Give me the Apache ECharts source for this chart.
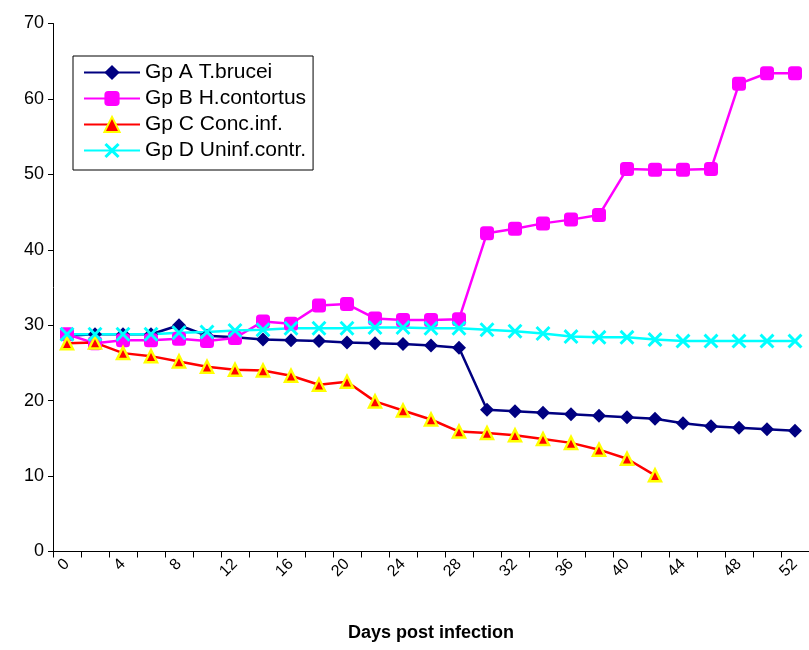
<!DOCTYPE html>
<html><head><meta charset="utf-8">
<script src="https://cdn.jsdelivr.net/npm/echarts@6/dist/echarts.min.js"></script>
<style>html,body{margin:0;padding:0;background:#fff}#c{width:809px;height:650px}</style>
</head><body><div id="c"></div>
<script>
const days = ["0","2","4","6","8","10","12","14","16","18","20","22","24","26","28","30","32","34","36","38","40","42","44","46","48","50","52"];
const gpA = [28.6,28.8,28.8,28.8,30.0,28.6,28.4,28.1,28.0,27.9,27.7,27.6,27.5,27.3,27.0,18.8,18.6,18.4,18.2,18.0,17.8,17.6,17.0,16.6,16.4,16.2,16.0];
const gpB = [28.8,27.6,28.0,28.0,28.2,27.9,28.3,30.5,30.2,32.6,32.8,30.9,30.7,30.7,30.8,42.2,42.8,43.5,44.0,44.6,50.7,50.6,50.6,50.7,62.0,63.4,63.4];
const gpC = [27.6,27.7,26.3,25.9,25.2,24.5,24.1,24.0,23.3,22.1,22.5,19.9,18.7,17.5,15.9,15.7,15.4,14.9,14.4,13.5,12.3,10.1,null,null,null,null,null];
const gpD = [28.8,28.8,28.8,28.8,29.0,29.1,29.3,29.4,29.6,29.6,29.6,29.7,29.7,29.6,29.6,29.4,29.2,28.9,28.5,28.4,28.4,28.1,27.9,27.9,27.9,27.9,27.9];
const names = ["Gp A T.brucei","Gp B H.contortus","Gp C Conc.inf.","Gp D Uninf.contr."];

const cross = 'path://M0,1.4L1.4,0L5,3.6L8.6,0L10,1.4L6.4,5L10,8.6L8.6,10L5,6.4L1.4,10L0,8.6L3.6,5Z';
const chart = echarts.init(document.getElementById('c'), null, {renderer:'canvas'});
chart.setOption({
  animation:false,
  backgroundColor:'#fff',
  textStyle:{fontFamily:'Liberation Sans, Arial, sans-serif'},
  grid:{left:53,right:0,top:23.5,bottom:98.5,containLabel:false},
  legend:{
    orient:'vertical', left:73, top:56,
    borderColor:'#000', borderWidth:1, padding:[6,7,9,10],
    itemWidth:56, itemHeight:19, itemGap:5,
    textStyle:{fontSize:21,lineHeight:20,color:'#000',fontFamily:'Liberation Sans, Arial, sans-serif'},
    data:names
  },
  xAxis:{
    type:'category', data:days, boundaryGap:true,
    name:'Days post infection', nameLocation:'middle', nameGap:73,
    nameTextStyle:{fontSize:18,fontWeight:'bold',color:'#000'},
    axisLine:{lineStyle:{color:'#000',width:1}},
    axisTick:{show:true,alignWithLabel:false,interval:0,length:6,lineStyle:{color:'#000'}},
    axisLabel:{interval:1,rotate:45,fontSize:16,color:'#000',margin:10}
  },
  yAxis:{
    type:'value', min:0, max:70, interval:10,
    axisLine:{show:true,lineStyle:{color:'#000',width:1}},
    axisTick:{show:true,length:5,lineStyle:{color:'#000'}},
    splitLine:{show:false},
    axisLabel:{fontSize:18,color:'#000',margin:9}
  },
  series:[
    {name:names[0],type:'line',data:gpA,symbol:'diamond',symbolSize:14,
     lineStyle:{color:'#000080',width:2.5},itemStyle:{color:'#000080'}},
    {name:names[1],type:'line',data:gpB,symbol:'roundRect',symbolSize:14,
     lineStyle:{color:'#FF00FF',width:2.5},itemStyle:{color:'#FF00FF'}},
    {name:names[2],type:'line',data:gpC,symbol:'triangle',symbolSize:12,
     lineStyle:{color:'#FF0000',width:2.5},itemStyle:{color:'#FF0000',borderColor:'#FFFF00',borderWidth:2.5}},
    {name:names[3],type:'line',data:gpD,symbol:cross,symbolSize:15,
     lineStyle:{color:'#00FFFF',width:2.5},itemStyle:{color:'#00FFFF'}}
  ]
});
</script></body></html>
